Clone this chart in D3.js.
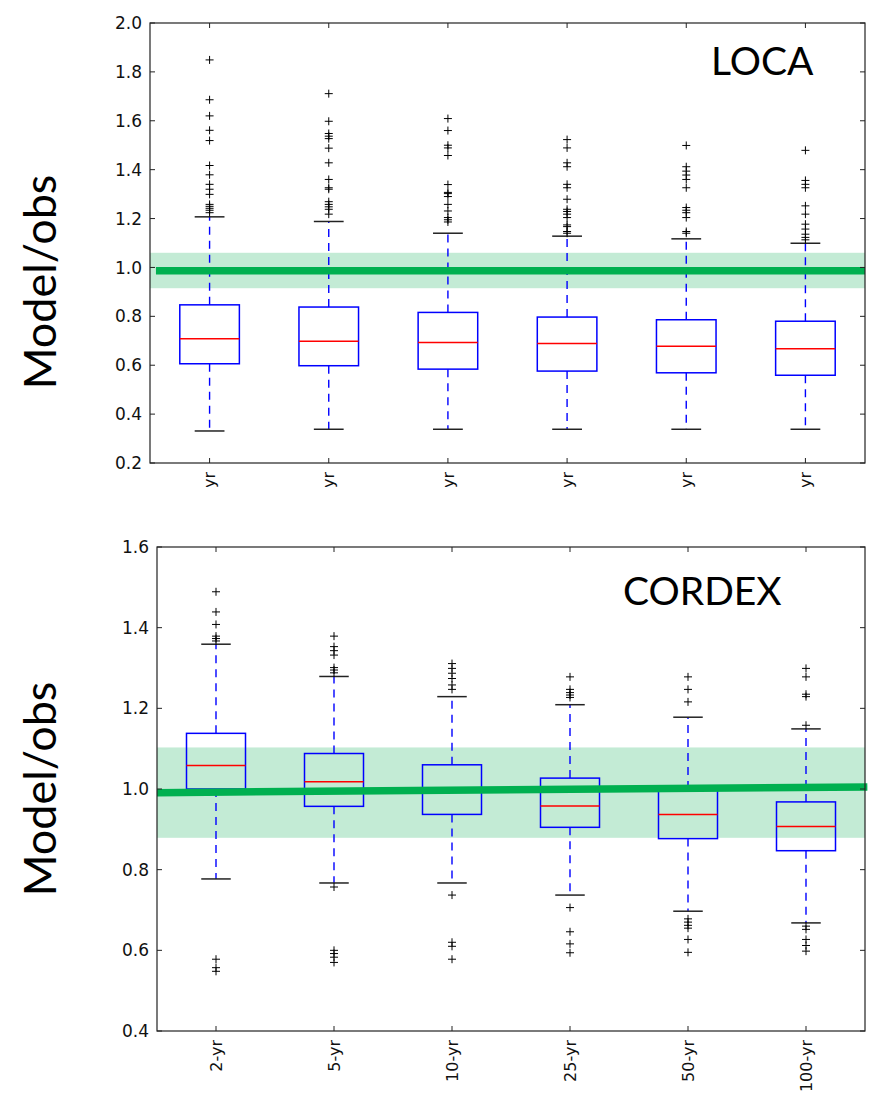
<!DOCTYPE html>
<html>
<head>
<meta charset="utf-8">
<script src="https://cdn.jsdelivr.net/npm/d3@7"></script>
<style>
  body { margin: 0; background: #fff; }
</style>
</head>
<body>
<div id="chart"></div>
<script>
// return periods (x categories)
const periods = ["2-yr", "5-yr", "10-yr", "25-yr", "50-yr", "100-yr"];

// LOCA panel
const locaTicks = [0.2, 0.4, 0.6, 0.8, 1.0, 1.2, 1.4, 1.6, 1.8, 2.0];
const locaQ1  = [0.606, 0.598, 0.584, 0.576, 0.569, 0.559];
const locaMed = [0.708, 0.698, 0.693, 0.689, 0.678, 0.667];
const locaQ3  = [0.847, 0.838, 0.816, 0.797, 0.786, 0.780];
const locaLo  = [0.331, 0.338, 0.338, 0.338, 0.338, 0.338];
const locaHi  = [1.207, 1.188, 1.140, 1.128, 1.117, 1.099];
const locaOut = [
  [1.849, 1.686, 1.620, 1.561, 1.519, 1.417, 1.379, 1.340, 1.320, 1.299, 1.258, 1.250, 1.242, 1.234, 1.224],
  [1.711, 1.598, 1.548, 1.537, 1.527, 1.488, 1.428, 1.360, 1.326, 1.320, 1.269, 1.258, 1.248, 1.238, 1.218],
  [1.609, 1.560, 1.500, 1.489, 1.458, 1.339, 1.307, 1.302, 1.290, 1.258, 1.231, 1.204, 1.195, 1.186],
  [1.523, 1.489, 1.428, 1.412, 1.340, 1.326, 1.279, 1.238, 1.229, 1.218, 1.204, 1.174, 1.167, 1.147, 1.140],
  [1.499, 1.412, 1.394, 1.378, 1.360, 1.326, 1.245, 1.234, 1.224, 1.204, 1.147, 1.140],
  [1.479, 1.356, 1.340, 1.326, 1.252, 1.218, 1.177, 1.157, 1.136, 1.123, 1.113]
];
const locaBand = [0.915, 1.060];
const locaLine = [0.986, 0.986];
const locaLineX = [0.55, 6.5];

// CORDEX panel
const cordexTicks = [0.4, 0.6, 0.8, 1.0, 1.2, 1.4, 1.6];
const cordexQ1  = [1.000, 0.957, 0.937, 0.905, 0.877, 0.847];
const cordexMed = [1.058, 1.018, 0.995, 0.958, 0.937, 0.907];
const cordexQ3  = [1.138, 1.088, 1.060, 1.027, 1.000, 0.968];
const cordexLo  = [0.777, 0.767, 0.767, 0.737, 0.697, 0.668];
const cordexHi  = [1.359, 1.279, 1.229, 1.209, 1.178, 1.149];
const cordexOut = [
  [1.489, 1.439, 1.408, 1.379, 1.373, 1.367, 0.578, 0.557, 0.548],
  [1.379, 1.353, 1.343, 1.332, 1.301, 1.295, 1.288, 0.757, 0.600, 0.592, 0.583, 0.570],
  [1.311, 1.299, 1.287, 1.274, 1.258, 1.247, 0.737, 0.620, 0.610, 0.578],
  [1.278, 1.247, 1.239, 1.233, 1.227, 0.706, 0.646, 0.616, 0.594],
  [1.278, 1.247, 1.216, 0.678, 0.670, 0.662, 0.655, 0.627, 0.595],
  [1.299, 1.278, 1.235, 1.229, 1.158, 0.660, 0.652, 0.627, 0.612, 0.598]
];
const cordexBand = [0.879, 1.103];
const cordexLine = [0.991, 1.005];
const cordexLineX = [0.5, 6.52];

const width = 871, height = 1103;
const svg = d3.select("#chart").append("svg")
  .attr("width", width)
  .attr("height", height)
  .style("font-family", "DejaVu Sans");

function drawPanel(p) {
  var x = d3.scaleLinear().domain([0.5, periods.length + 0.5]).range([p.left, p.right]);
  var y = d3.scaleLinear().domain(p.yDomain).range([p.bottom, p.top]);
  var g = svg.append("g");

  var rows = periods.map((name, i) => ({
    name: name, pos: i + 1,
    q1: p.q1[i], med: p.med[i], q3: p.q3[i], lo: p.lo[i], hi: p.hi[i], out: p.out[i]
  }));

  // shaded band
  g.append("rect")
    .attr("x", x(0.5)).attr("width", x(periods.length + 0.5) - x(0.5))
    .attr("y", y(p.band[1])).attr("height", y(p.band[0]) - y(p.band[1]))
    .attr("fill", "#c3ebd5");

  var box = g.selectAll(".box").data(rows).enter().append("g").attr("class", "box");

  // whiskers
  box.append("line")
    .attr("x1", d => x(d.pos)).attr("x2", d => x(d.pos))
    .attr("y1", d => y(d.q3)).attr("y2", d => y(d.hi))
    .attr("stroke", "#0000ff").attr("stroke-width", 1.4).attr("stroke-dasharray", "8,6");
  box.append("line")
    .attr("x1", d => x(d.pos)).attr("x2", d => x(d.pos))
    .attr("y1", d => y(d.q1)).attr("y2", d => y(d.lo))
    .attr("stroke", "#0000ff").attr("stroke-width", 1.4).attr("stroke-dasharray", "8,6");

  // caps
  ["lo", "hi"].forEach(k => {
    box.append("line")
      .attr("x1", d => x(d.pos - 0.125)).attr("x2", d => x(d.pos + 0.125))
      .attr("y1", d => y(d[k])).attr("y2", d => y(d[k]))
      .attr("stroke", "#222").attr("stroke-width", 1.5);
  });

  // boxes
  box.append("rect")
    .attr("x", d => x(d.pos - 0.25)).attr("width", d => x(d.pos + 0.25) - x(d.pos - 0.25))
    .attr("y", d => y(d.q3)).attr("height", d => y(d.q1) - y(d.q3))
    .attr("fill", "none").attr("stroke", "#0000ff").attr("stroke-width", 1.5);

  // medians
  box.append("line")
    .attr("x1", d => x(d.pos - 0.25)).attr("x2", d => x(d.pos + 0.25))
    .attr("y1", d => y(d.med)).attr("y2", d => y(d.med))
    .attr("stroke", "#ff0000").attr("stroke-width", 1.5);

  // fliers
  box.selectAll(".flier")
    .data(d => d.out.map(v => ({ pos: d.pos, v: v })))
    .enter().append("path")
    .attr("class", "flier")
    .attr("d", d => {
      var cx = x(d.pos), cy = y(d.v);
      return "M" + (cx - 4) + "," + cy + "H" + (cx + 4) + "M" + cx + "," + (cy - 4) + "V" + (cy + 4);
    })
    .attr("stroke", "#000").attr("stroke-width", 1).attr("fill", "none");

  // thick green reference line
  g.append("line")
    .attr("x1", x(p.lineX[0])).attr("x2", x(p.lineX[1]))
    .attr("y1", y(p.line[0])).attr("y2", y(p.line[1]))
    .attr("stroke", "#00b050").attr("stroke-width", 7.5);

  // frame
  g.append("rect")
    .attr("x", p.left).attr("y", p.top)
    .attr("width", p.right - p.left).attr("height", p.bottom - p.top)
    .attr("fill", "none").attr("stroke", "#222").attr("stroke-width", 1.2);

  // inward ticks, all four sides
  var tl = 5;
  p.ticks.forEach(t => {
    g.append("line").attr("x1", p.left).attr("x2", p.left + tl)
      .attr("y1", y(t)).attr("y2", y(t)).attr("stroke", "#222");
    g.append("line").attr("x1", p.right).attr("x2", p.right - tl)
      .attr("y1", y(t)).attr("y2", y(t)).attr("stroke", "#222");
    g.append("text")
      .attr("x", p.left - 8).attr("y", y(t))
      .attr("dy", "0.36em")
      .attr("text-anchor", "end")
      .attr("font-size", "17px")
      .attr("fill", "#111")
      .text(d3.format(".1f")(t));
  });
  rows.forEach(d => {
    g.append("line").attr("x1", x(d.pos)).attr("x2", x(d.pos))
      .attr("y1", p.bottom).attr("y2", p.bottom - tl).attr("stroke", "#222");
    g.append("line").attr("x1", x(d.pos)).attr("x2", x(d.pos))
      .attr("y1", p.top).attr("y2", p.top + tl).attr("stroke", "#222");
  });

  // x labels, rotated
  var lab = g.append("g");
  if (p.clipId) {
    svg.append("clipPath").attr("id", p.clipId)
      .append("rect").attr("x", 0).attr("y", p.bottom).attr("width", width).attr("height", p.clipTo - p.bottom);
    lab.attr("clip-path", "url(#" + p.clipId + ")");
  }
  lab.selectAll("text").data(rows).enter().append("text")
    .attr("transform", d => "translate(" + x(d.pos) + "," + (p.bottom + 9) + ") rotate(-90)")
    .attr("dy", "0.35em")
    .attr("text-anchor", "end")
    .attr("font-size", "16px")
    .attr("fill", "#111")
    .text(d => d.name);

  // panel title
  g.append("text")
    .attr("x", p.titleX).attr("y", p.titleY)
    .attr("font-family", "Lato")
    .attr("font-size", "39px")
    .attr("fill", "#000")
    .text(p.title);

  // y label
  g.append("text")
    .attr("transform", "translate(56," + p.labelY + ") rotate(-90)")
    .attr("text-anchor", "middle")
    .attr("font-family", "Lato")
    .attr("font-size", "45px")
    .attr("fill", "#000")
    .text("Model/obs");
}

drawPanel({
  left: 150, right: 865, top: 23, bottom: 463,
  yDomain: [0.2, 2.0], ticks: locaTicks,
  q1: locaQ1, med: locaMed, q3: locaQ3, lo: locaLo, hi: locaHi, out: locaOut,
  band: locaBand, line: locaLine, lineX: locaLineX,
  title: "LOCA", titleX: 711, titleY: 75, labelY: 282,
  clipId: "topclip", clipTo: 487
});

drawPanel({
  left: 157, right: 865, top: 547, bottom: 1031,
  yDomain: [0.4, 1.6], ticks: cordexTicks,
  q1: cordexQ1, med: cordexMed, q3: cordexQ3, lo: cordexLo, hi: cordexHi, out: cordexOut,
  band: cordexBand, line: cordexLine, lineX: cordexLineX,
  title: "CORDEX", titleX: 623, titleY: 605, labelY: 789
});
</script>
</body>
</html>
